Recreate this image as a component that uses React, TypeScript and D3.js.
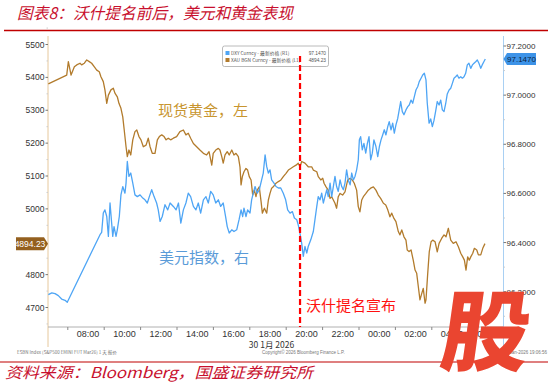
import React from "react";
import * as d3 from "d3";

// time in hours since 00:00, 30 Jan 2026 (values > 24 are 31 Jan)
const goldSeries: [number, number][] = [
[5.93,5380],[6.94,5407],[7.03,5448],[7.18,5407],[7.36,5432],[7.49,5438],[7.67,5443],[7.76,5438],[7.91,5443],[8.04,5453],[8.18,5448],[8.31,5443],[8.46,5432],[8.59,5422],[8.73,5417],[8.82,5402],[8.95,5387],[9.04,5362],[9.14,5321],[9.23,5346],[9.37,5362],[9.50,5367],[9.59,5352],[9.72,5341],[9.81,5321],[9.92,5306],[10.02,5280],[10.10,5240],[10.20,5189],[10.27,5159],[10.36,5179],[10.46,5164],[10.57,5210],[10.69,5235],[10.79,5240],[10.91,5220],[11.02,5210],[11.15,5189],[11.30,5194],[11.42,5215],[11.52,5189],[11.64,5169],[11.79,5169],[11.92,5210],[12.03,5220],[12.16,5225],[12.29,5220],[12.40,5210],[12.52,5215],[12.65,5210],[12.80,5215],[12.98,5220],[13.16,5235],[13.35,5240],[13.49,5225],[13.62,5230],[13.75,5215],[13.90,5199],[14.08,5189],[14.26,5179],[14.45,5169],[14.63,5164],[14.76,5174],[14.91,5133],[14.99,5169],[15.13,5179],[15.27,5184],[15.36,5179],[15.46,5159],[15.54,5139],[15.64,5164],[15.76,5174],[15.87,5164],[16.01,5179],[16.13,5164],[16.24,5169],[16.37,5159],[16.46,5128],[16.52,5073],[16.59,5098],[16.68,5113],[16.79,5123],[16.88,5118],[16.97,5098],[17.07,5088],[17.16,5042],[17.25,5057],[17.34,5037],[17.41,5057],[17.52,5067],[17.62,5022],[17.69,4987],[17.80,5002],[17.93,4987],[18.02,5027],[18.11,5047],[18.20,5063],[18.29,5067],[18.44,5078],[18.57,5083],[18.71,5088],[18.84,5098],[18.99,5108],[19.12,5118],[19.25,5123],[19.39,5128],[19.54,5133],[19.66,5139],[19.76,5128],[19.85,5144],[20.03,5139],[20.21,5128],[20.40,5128],[20.49,5118],[20.68,5113],[20.76,5098],[20.90,5088],[21.01,5093],[21.08,5078],[21.19,5067],[21.31,5057],[21.41,5032],[21.50,5037],[21.59,5027],[21.68,5017],[21.77,5002],[21.86,5037],[21.96,5047],[22.10,5042],[22.23,5052],[22.38,5088],[22.51,5093],[22.63,5088],[22.74,5078],[22.87,5057],[22.96,5007],[23.05,4991],[23.15,5027],[23.24,5037],[23.38,5047],[23.51,5057],[23.64,5063],[23.79,5067],[23.93,5057],[24.06,5042],[24.19,5032],[24.34,5017],[24.47,5012],[24.58,4997],[24.70,4976],[24.80,4987],[24.92,4971],[25.03,4961],[25.16,4931],[25.25,4921],[25.35,4936],[25.47,4915],[25.58,4905],[25.65,4875],[25.75,4870],[25.86,4875],[25.98,4844],[26.08,4814],[26.17,4804],[26.26,4763],[26.35,4723],[26.45,4743],[26.53,4758],[26.63,4713],[26.68,4723],[26.77,4799],[26.86,4869],[26.96,4900],[27.05,4905],[27.18,4900],[27.30,4869],[27.40,4895],[27.54,4910],[27.67,4921],[27.78,4915],[27.91,4941],[28.04,4905],[28.18,4895],[28.33,4900],[28.46,4885],[28.59,4865],[28.70,4854],[28.79,4844],[28.88,4814],[28.97,4854],[29.06,4844],[29.14,4854],[29.25,4865],[29.34,4880],[29.47,4875],[29.56,4860],[29.69,4860],[29.80,4880],[29.92,4894.23]
];

const dxySeries: [number, number][] = [
[5.93,96.188],[6.12,96.195],[6.30,96.192],[6.48,96.184],[6.66,96.170],[6.85,96.165],[6.97,96.157],[8.77,96.432],[8.86,96.441],[8.95,96.520],[9.04,96.533],[9.14,96.506],[9.23,96.425],[9.32,96.561],[9.41,96.479],[9.47,96.425],[9.54,96.465],[9.65,96.425],[9.72,96.452],[9.83,96.506],[9.92,96.594],[10.02,96.628],[10.14,96.601],[10.20,96.642],[10.27,96.730],[10.36,96.669],[10.46,96.683],[10.57,96.642],[10.69,96.594],[10.82,96.587],[10.97,96.594],[11.12,96.581],[11.24,96.574],[11.37,96.561],[11.48,96.587],[11.61,96.615],[11.74,96.587],[11.88,96.561],[11.97,96.533],[12.07,96.486],[12.19,96.506],[12.34,96.554],[12.49,96.533],[12.62,96.561],[12.80,96.547],[12.95,96.533],[13.08,96.561],[13.21,96.479],[13.35,96.533],[13.49,96.561],[13.62,96.601],[13.75,96.587],[13.90,96.547],[14.04,96.533],[14.17,96.561],[14.30,96.520],[14.45,96.574],[14.59,96.587],[14.72,96.561],[14.85,96.608],[14.99,96.594],[15.13,96.561],[15.27,96.574],[15.40,96.547],[15.54,96.561],[15.67,96.506],[15.76,96.465],[15.87,96.439],[16.01,96.452],[16.13,96.445],[16.28,96.452],[16.41,96.493],[16.52,96.533],[16.61,96.506],[16.68,96.540],[16.79,96.506],[16.88,96.533],[17.01,96.520],[17.10,96.574],[17.19,96.601],[17.29,96.628],[17.41,96.601],[17.52,96.615],[17.65,96.655],[17.74,96.683],[17.84,96.757],[17.93,96.709],[18.02,96.683],[18.11,96.696],[18.20,96.655],[18.33,96.642],[18.44,96.628],[18.57,96.622],[18.70,96.622],[18.84,96.601],[18.97,96.574],[19.08,96.533],[19.21,96.520],[19.34,96.526],[19.45,96.500],[19.58,96.493],[19.66,96.472],[19.72,96.452],[19.85,96.398],[19.94,96.344],[20.03,96.384],[20.13,96.357],[20.21,96.384],[20.35,96.411],[20.49,96.445],[20.58,96.493],[20.68,96.547],[20.76,96.587],[20.86,96.574],[20.95,96.601],[21.04,96.561],[21.13,96.587],[21.23,96.615],[21.31,96.587],[21.41,96.642],[21.50,96.587],[21.59,96.628],[21.68,96.669],[21.77,96.628],[21.86,96.608],[21.96,96.655],[22.05,96.628],[22.14,96.615],[22.23,96.642],[22.32,96.696],[22.41,96.655],[22.51,96.635],[22.60,96.683],[22.69,96.655],[22.78,96.669],[22.87,96.696],[22.96,96.737],[23.02,96.818],[23.09,96.831],[23.18,96.777],[23.27,96.804],[23.37,96.764],[23.46,96.804],[23.55,96.831],[23.64,96.737],[23.73,96.764],[23.82,96.818],[23.93,96.791],[24.03,96.750],[24.12,96.791],[24.21,96.818],[24.30,96.838],[24.39,96.859],[24.48,96.838],[24.58,96.872],[24.66,96.892],[24.76,96.859],[24.85,96.886],[24.94,96.845],[25.03,96.879],[25.13,96.906],[25.21,96.940],[25.29,96.974],[25.38,96.933],[25.47,96.920],[25.58,96.940],[25.68,96.953],[25.76,96.960],[25.86,96.980],[25.95,96.967],[26.04,96.994],[26.13,97.021],[26.23,97.035],[26.31,97.055],[26.41,97.069],[26.50,97.082],[26.59,97.089],[26.68,97.062],[26.75,96.968],[26.85,96.886],[26.94,96.903],[27.03,96.872],[27.12,96.897],[27.21,96.934],[27.30,96.974],[27.40,96.960],[27.49,96.980],[27.58,96.940],[27.67,96.933],[27.76,96.964],[27.85,97.005],[27.95,97.021],[28.04,97.028],[28.13,97.048],[28.22,97.069],[28.31,97.075],[28.40,97.082],[28.49,97.069],[28.59,97.075],[28.68,97.069],[28.77,97.075],[28.86,97.089],[28.95,97.123],[29.04,97.130],[29.14,97.109],[29.23,97.123],[29.32,97.130],[29.41,97.136],[29.50,97.143],[29.59,97.130],[29.69,97.109],[29.77,97.123],[29.86,97.136],[29.94,97.147]
];

// 4900 is hidden behind the last-value badge in the reference
const leftTicks = [4700, 4800, 5000, 5100, 5200, 5300, 5400, 5500];
const rightTicks = [96.2, 96.4, 96.6, 96.8, 97.0, 97.2];
const xLabelHours = [8, 10, 12, 14, 16, 18, 20, 22, 24, 26, 28, 30];
const xTickHours = [7, 9, 11, 13, 15, 17, 19, 21, 23, 25, 27, 29];
const announceHour = 19.76;
const goldLast = 4894.23;
const dxyLast = 97.147;

const title = "图表8：沃什提名前后，美元和黄金表现";
const source = "资料来源：Bloomberg，国盛证券研究所";
const goldLabel = "现货黄金，左";
const dxyLabel = "美元指数，右";
const eventLabel = "沃什提名宣布";
const dateLabel = "30 1月 2026";

const GOLD = "#b27b2c";
const BLUE = "#4ea5f5";
const RED = "#c8102e";
const CJK = "'Noto Sans CJK SC', sans-serif";
const LAT = "'Liberation Sans', Arial, sans-serif";

export default function App() {
  const x = d3.scaleLinear().domain([5.912, 30.912]).range([48, 503]);
  const yL = d3.scaleLinear().domain([4700, 5500]).range([307.5, 44.5]);
  const yR = d3.scaleLinear().domain([96.2, 97.2]).range([291.7, 46]);

  const goldLine = d3.line<[number, number]>().x(d => x(d[0])).y(d => yL(d[1]));
  const dxyLine = d3.line<[number, number]>().x(d => x(d[0])).y(d => yR(d[1]));

  const fmtH = (h: number) => `${String(h % 24).padStart(2, "0")}:00`;
  const minorL = d3.range(4650, 5551, 50).filter(v => v % 100 !== 0);
  const minorR = d3.range(96.1, 97.25, 0.1).filter((_, i) => i % 2 === 0);

  const gy = yL(goldLast);
  const dy = yR(dxyLast);
  const axisY = 327;
  const ax = x(announceHour);

  return (
    <svg width={550} height={387} style={{ position: "absolute", left: 0, top: 0, background: "#fff" }}>
      {/* title */}
      <text x={17} y={19} fontFamily={CJK} fontSize={16} fontStyle="italic" fill={RED}
        textLength={276} lengthAdjust="spacingAndGlyphs">{title}</text>
      <line x1={4} x2={548} y1={30.5} y2={30.5} stroke="#c00000" strokeWidth={1.5} />

      {/* axes */}
      <line x1={48} x2={48} y1={36} y2={347} stroke="#e6c89c" strokeWidth={1} />
      <line x1={503.5} x2={503.5} y1={36} y2={352} stroke="#a9d0f3" strokeWidth={1} />
      <line x1={48} x2={503} y1={axisY} y2={axisY} stroke="#b0b0b0" strokeWidth={1} />

      {leftTicks.map(v => (
        <g key={v}>
          <line x1={45.5} x2={48} y1={yL(v)} y2={yL(v)} stroke="#777" />
          <text x={44.5} y={yL(v) + 3} textAnchor="end" fontFamily={LAT} fontSize={8.5} fill="#333">{v}</text>
        </g>
      ))}
      {minorL.map(v => (
        <line key={v} x1={46.5} x2={48} y1={yL(v)} y2={yL(v)} stroke="#ccc" />
      ))}
      {rightTicks.map(v => (
        <g key={v}>
          <line x1={503.5} x2={506} y1={yR(v)} y2={yR(v)} stroke="#777" />
          <text x={506.5} y={yR(v) + 3} fontFamily={LAT} fontSize={8} fill="#333">{v.toFixed(4)}</text>
        </g>
      ))}
      {minorR.map((v, i) => (
        <line key={i} x1={503.5} x2={505} y1={yR(v)} y2={yR(v)} stroke="#ccc" />
      ))}
      {xTickHours.map(h => (
        <line key={h} x1={x(h)} x2={x(h)} y1={axisY} y2={axisY + 3} stroke="#888" />
      ))}
      {xLabelHours.map(h => (
        <text key={h} x={x(h) + 2} y={336.5} textAnchor="middle" fontFamily={LAT} fontSize={9} fill="#333">{fmtH(h)}</text>
      ))}
      <text x={271.5} y={348} textAnchor="middle" fontFamily={CJK} fontSize={8.5} fill="#333">{dateLabel}</text>

      {/* series */}
      <path d={goldLine(goldSeries) || ""} fill="none" stroke={GOLD} strokeWidth={1.3} strokeLinejoin="round" />
      <path d={dxyLine(dxySeries) || ""} fill="none" stroke={BLUE} strokeWidth={1.3} strokeLinejoin="round" />

      {/* legend */}
      <rect x={222.5} y={46} width={106} height={20.5} rx={2} fill="#fff" stroke="#a8a8a8" strokeWidth={0.8} />
      <rect x={225.5} y={51} width={4} height={4} fill={BLUE} />
      <rect x={225.5} y={58} width={4} height={4} fill={GOLD} />
      <text x={231} y={55} fontFamily={CJK} fontSize={4.8} fill="#555">DXY Curncy - 最新价格 (R1)</text>
      <text x={231} y={62} fontFamily={CJK} fontSize={4.8} fill="#555">XAU BGN Curncy - 最新价格 (L1)</text>
      <text x={326} y={55} textAnchor="end" fontFamily={LAT} fontSize={4.8} fill="#555">{dxyLast.toFixed(4)}</text>
      <text x={326} y={62} textAnchor="end" fontFamily={LAT} fontSize={4.8} fill="#555">{goldLast.toFixed(2)}</text>

      {/* announcement line */}
      <line x1={ax} x2={ax} y1={56} y2={axisY} stroke="#ff0000" strokeWidth={2.2} strokeDasharray="6,3" />

      {/* annotations */}
      <text x={158} y={116} fontFamily={CJK} fontSize={15} fill="#c8952f">{goldLabel}</text>
      <text x={159} y={263} fontFamily={CJK} fontSize={15} fill="#5a9bd8">{dxyLabel}</text>
      <text x={306} y={311} fontFamily={CJK} fontSize={15} fill="#ff1010">{eventLabel}</text>

      {/* last value badges */}
      <path d={`M16,${gy - 6.5} H44 L48,${gy} L44,${gy + 6.5} H16 Z`} fill="#94601f" />
      <text x={30} y={gy + 3} textAnchor="middle" fontFamily={LAT} fontSize={8.5} fill="#fff">{goldLast.toFixed(2)}</text>
      <path d={`M503.5,${dy} L507,${dy - 6} H536 V${dy + 6} H507 Z`} fill="#3d93e8" />
      <text x={521.5} y={dy + 3} textAnchor="middle" fontFamily={LAT} fontSize={8} fill="#0b2340">{dxyLast.toFixed(4)}</text>

      {/* footer small texts */}
      <text x={17} y={354} fontFamily={CJK} fontSize={4.5} fill="#777">ESBN Index (S&amp;P500 EMINI FUT Mar26) 1 天 报价</text>
      <text x={262} y={354} fontFamily={LAT} fontSize={4.5} fill="#777">Copyright© 2026 Bloomberg Finance L.P.</text>
      <text x={547} y={354} textAnchor="end" fontFamily={LAT} fontSize={4.5} fill="#777">30-Jan-2026 19:06:56</text>

      {/* source */}
      <line x1={0} x2={548} y1={362} y2={362} stroke="#c00000" strokeWidth={1.2} />
      <text x={5} y={378} fontFamily={CJK} fontSize={15} fontStyle="italic" fill={RED}
        textLength={308} lengthAdjust="spacingAndGlyphs">{source}</text>

      {/* watermark */}
      <g transform="translate(482,364) skewX(-8)">
        <text x={0} y={0} textAnchor="middle" fontFamily={CJK} fontSize={88} fontWeight={900} fill="#ea4530">股</text>
      </g>
    </svg>
  );
}
